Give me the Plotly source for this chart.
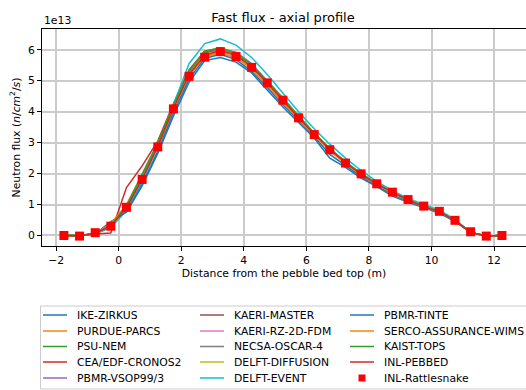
import plotly.graph_objects as go

SCALE = 1e13

x_pos = [-1.75, -1.25, -0.75, -0.25, 0.25, 0.75, 1.25, 1.75, 2.25, 2.75, 3.25, 3.75, 4.25, 4.75,
         5.25, 5.75, 6.25, 6.75, 7.25, 7.75, 8.25, 8.75, 9.25, 9.75, 10.25, 10.75, 11.25, 11.75, 12.25]

ike_zirkus = [0, 0, 0.05, 0.45, 0.75, 1.6, 2.65, 3.85, 4.95, 5.65, 5.75, 5.6, 5.25, 4.7, 4.15, 3.65, 3.15, 2.5, 2.2, 1.85, 1.58, 1.27, 1.07, 0.9, 0.72, 0.45, 0.1, -0.02, 0]
purdue_parcs = [0, 0, 0.06, 0.35, 0.95, 1.85, 2.85, 4.05, 5.15, 5.78, 5.88, 5.75, 5.38, 4.85, 4.3, 3.75, 3.25, 2.75, 2.32, 1.95, 1.64, 1.37, 1.13, 0.93, 0.76, 0.47, 0.1, -0.02, 0]
psu_nem = [0, 0, 0.06, 0.3, 0.9, 1.9, 2.95, 4.15, 5.3, 5.95, 6.05, 5.9, 5.5, 4.98, 4.42, 3.85, 3.3, 2.8, 2.38, 2.0, 1.68, 1.4, 1.16, 0.95, 0.78, 0.49, 0.1, -0.02, 0]
cea_cronos2 = [0, 0, 0.05, 0.08, 1.55, 2.25, 3.05, 4.25, 5.35, 5.95, 6.0, 5.85, 5.45, 4.92, 4.35, 3.8, 3.28, 2.78, 2.35, 1.97, 1.66, 1.39, 1.14, 0.94, 0.77, 0.48, 0.1, -0.02, 0]
pbmr_vsop = [0, 0, 0.06, 0.3, 0.85, 1.8, 2.9, 4.1, 5.25, 5.9, 6.0, 5.92, 5.55, 5.0, 4.45, 3.85, 3.3, 2.8, 2.38, 2.0, 1.68, 1.41, 1.16, 0.96, 0.79, 0.5, 0.1, -0.02, 0]
kaeri_master = [0, 0, 0.06, 0.3, 0.88, 1.85, 2.92, 4.15, 5.25, 5.88, 5.98, 5.85, 5.48, 4.95, 4.4, 3.82, 3.28, 2.78, 2.36, 1.98, 1.67, 1.4, 1.15, 0.95, 0.78, 0.49, 0.1, -0.02, 0]
kaeri_rz = [0, 0, 0.06, 0.32, 0.9, 1.85, 2.9, 4.12, 5.22, 5.85, 5.95, 5.82, 5.45, 4.93, 4.38, 3.8, 3.27, 2.78, 2.35, 1.98, 1.66, 1.39, 1.15, 0.94, 0.77, 0.48, 0.1, -0.02, 0]
necsa_oscar = [0, 0, 0.06, 0.33, 0.88, 1.82, 2.88, 4.1, 5.2, 5.83, 5.95, 5.82, 5.46, 4.95, 4.38, 3.8, 3.27, 2.77, 2.35, 1.97, 1.66, 1.39, 1.14, 0.94, 0.77, 0.48, 0.1, -0.02, 0]
delft_diffusion = [0, 0, 0.05, 0.28, 0.82, 1.75, 2.85, 4.05, 5.2, 5.85, 5.98, 5.86, 5.5, 4.98, 4.42, 3.85, 3.3, 2.8, 2.38, 2.0, 1.69, 1.41, 1.16, 0.96, 0.79, 0.5, 0.1, -0.02, 0]
delft_event = [0, 0, 0.05, 0.25, 0.8, 1.75, 2.9, 4.2, 5.55, 6.2, 6.35, 6.15, 5.75, 5.2, 4.6, 4.0, 3.45, 2.95, 2.5, 2.1, 1.75, 1.45, 1.2, 1.0, 0.82, 0.52, 0.1, -0.02, 0]
pbmr_tinte = [0, 0, 0.05, 0.4, 0.78, 1.65, 2.72, 3.95, 5.05, 5.72, 5.85, 5.68, 5.3, 4.78, 4.22, 3.7, 3.2, 2.62, 2.25, 1.9, 1.6, 1.32, 1.1, 0.91, 0.74, 0.46, 0.1, -0.02, 0]
serco_wims = [0, 0, 0.07, 0.38, 1.0, 1.95, 2.95, 4.12, 5.2, 5.82, 5.9, 5.75, 5.38, 4.86, 4.3, 3.75, 3.24, 2.74, 2.32, 1.95, 1.64, 1.37, 1.13, 0.93, 0.76, 0.47, 0.1, -0.02, 0]
kaist_tops = [0, 0, 0.06, 0.33, 0.95, 1.95, 3.0, 4.2, 5.32, 5.95, 6.06, 5.9, 5.52, 4.98, 4.42, 3.84, 3.3, 2.8, 2.37, 2.0, 1.68, 1.4, 1.16, 0.95, 0.78, 0.49, 0.1, -0.02, 0]
inl_pebbed = [0, -0.02, 0.08, 0.3, 0.9, 1.82, 2.88, 4.1, 5.2, 5.82, 5.98, 5.83, 5.45, 4.94, 4.37, 3.8, 3.28, 2.78, 2.35, 1.97, 1.66, 1.39, 1.14, 0.93, 0.77, 0.48, 0.1, -0.02, 0]
inl_rattlesnake = [0.0, -0.02, 0.09, 0.30, 0.91, 1.81, 2.86, 4.09, 5.14, 5.76, 5.94, 5.78, 5.43, 4.93, 4.37, 3.80, 3.26, 2.77, 2.34, 1.99, 1.67, 1.40, 1.16, 0.95, 0.78, 0.49, 0.12, -0.02, 0.0]

series_names = ["IKE-ZIRKUS", "PURDUE-PARCS", "PSU-NEM", "CEA/EDF-CRONOS2", "PBMR-VSOP99/3",
                "KAERI-MASTER", "KAERI-RZ-2D-FDM", "NECSA-OSCAR-4", "DELFT-DIFFUSION", "DELFT-EVENT",
                "PBMR-TINTE", "SERCO-ASSURANCE-WIMS", "KAIST-TOPS", "INL-PEBBED"]
series_values = [ike_zirkus, purdue_parcs, psu_nem, cea_cronos2, pbmr_vsop, kaeri_master, kaeri_rz,
                 necsa_oscar, delft_diffusion, delft_event, pbmr_tinte, serco_wims, kaist_tops, inl_pebbed]
marker_name = "INL-Rattlesnake"
colors = ["#1f77b4", "#ff7f0e", "#2ca02c", "#d62728", "#9467bd", "#8c564b", "#e377c2",
          "#7f7f7f", "#bcbd22", "#17becf"]

y_ticks = [0, 1, 2, 3, 4, 5, 6]
x_ticks = [-2, 0, 2, 4, 6, 8, 10, 12]

FONT = "DejaVu Sans"
FS = 10.8
W, H = 526, 390
L, R, T, B = 42, 0, 29, 144
PW, PH = W - L - R, H - T - B


def px_x(px):
    return (px - L) / PW


def px_y(py):
    return (H - B - py) / PH


fig = go.Figure()

for i, (name, vals) in enumerate(zip(series_names, series_values)):
    fig.add_trace(go.Scatter(
        x=x_pos, y=[v * SCALE for v in vals], mode="lines", name=name,
        line=dict(color=colors[i % len(colors)], width=1.5), showlegend=False,
    ))

fig.add_trace(go.Scatter(
    x=x_pos, y=[v * SCALE for v in inl_rattlesnake], mode="markers", name=marker_name,
    marker=dict(symbol="square", size=9, color="red", line=dict(width=0)), showlegend=False,
))

axis_common = dict(
    showline=True, linecolor="black", linewidth=1, mirror=True,
    ticks="outside", ticklen=4, tickwidth=1, tickcolor="black",
    showgrid=True, gridcolor="#cbcbcb", gridwidth=1.5, zeroline=False,
    tickfont=dict(family=FONT, size=FS, color="black"),
)

fig.update_layout(
    width=W, height=H,
    margin=dict(l=L, r=R, t=T, b=B),
    paper_bgcolor="white", plot_bgcolor="white",
    font=dict(family=FONT, size=FS, color="black"),
    title=dict(text="Fast flux - axial profile", x=283 / W, xanchor="center",
               y=1 - 17 / H, yanchor="middle", font=dict(family=FONT, size=13, color="black")),
    xaxis=dict(range=[-2.45, 13.02], tickvals=x_ticks,
               title=dict(text="Distance from the pebble bed top (m)", standoff=3,
                          font=dict(family=FONT, size=FS)),
               **axis_common),
    yaxis=dict(range=[-0.34 * SCALE, 6.67 * SCALE], tickvals=[t * SCALE for t in y_ticks],
               ticktext=[str(t) for t in y_ticks],
               title=dict(text="Neutron flux (<i>n</i>/<i>cm</i><sup>2</sup>/<i>s</i>)", standoff=5,
                          font=dict(family=FONT, size=FS)),
               **axis_common),
    showlegend=False,
)

fig.add_annotation(text="1e13", xref="paper", yref="paper", x=0, y=1, xanchor="left", yanchor="bottom",
                   showarrow=False, font=dict(family=FONT, size=FS, color="black"))

# Legend (matplotlib-style, 3 columns, column-major)
box_l, box_t, box_r, box_b = 40.5, 306, 540, 389
fig.add_shape(type="rect", xref="paper", yref="paper",
              x0=px_x(box_l), x1=px_x(box_r), y0=px_y(box_b), y1=px_y(box_t),
              line=dict(color="#cccccc", width=1), fillcolor="white", layer="above")

col_line_x = [43, 200, 350]
col_text_x = [75, 232, 382]
row_y = [315, 331, 346.5, 362, 378]
legend_entries = list(zip(series_names, [colors[i % len(colors)] for i in range(len(series_names))]))
legend_entries.append((marker_name, None))

for idx, (name, col_color) in enumerate(legend_entries):
    c, r = divmod(idx, 5)
    yy = px_y(row_y[r])
    if col_color is not None:
        fig.add_shape(type="line", xref="paper", yref="paper",
                      x0=px_x(col_line_x[c]), x1=px_x(col_line_x[c] + 24), y0=yy, y1=yy,
                      line=dict(color=col_color, width=1.5), layer="above")
    else:
        cx = col_line_x[c] + 12
        fig.add_shape(type="rect", xref="paper", yref="paper",
                      x0=px_x(cx - 3.5), x1=px_x(cx + 3.5), y0=px_y(row_y[r] + 3.5), y1=px_y(row_y[r] - 3.5),
                      line=dict(width=0), fillcolor="red", layer="above")
    fig.add_annotation(text=name, xref="paper", yref="paper", x=px_x(col_text_x[c]), y=yy,
                       xanchor="left", yanchor="middle", showarrow=False,
                       font=dict(family=FONT, size=FS, color="black"))

fig.write_html("out.html")
